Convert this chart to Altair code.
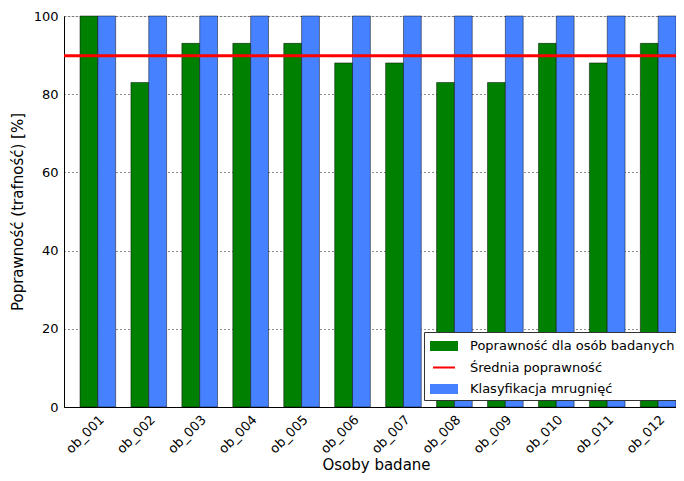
import altair as alt
import pandas as pd

subjects = ["ob_001", "ob_002", "ob_003", "ob_004", "ob_005", "ob_006",
            "ob_007", "ob_008", "ob_009", "ob_010", "ob_011", "ob_012"]
accuracy = [100, 83, 93, 93, 93, 88, 88, 83, 83, 93, 88, 93]
blink = [100, 100, 100, 100, 100, 100, 100, 100, 100, 100, 100, 100]
labels = ["Poprawność dla osób badanych", "Średnia poprawność", "Klasyfikacja mrugnięć"]
colors = ["#008000", "#ff0000", "#4682ff"]
paths = ["M-1.4,-0.5H1.4V0.5H-1.4Z", "M-1.1,-0.1H1.1V0.1H-1.1Z", "M-1.4,-0.5H1.4V0.5H-1.4Z"]

rows = []
for s, a, b in zip(subjects, accuracy, blink):
    rows.append({"subject": s, "series": labels[0], "value": a})
    rows.append({"subject": s, "series": labels[2], "value": b})
df = pd.DataFrame(rows)
legend_df = pd.DataFrame({"series": labels})

FONT = "DejaVu Sans"
ytitle = "Poprawność (trafność) [%]"

leg = alt.Legend(title=None, orient="none", legendX=360, legendY=316,
                 fillColor="white", strokeColor="#333", padding=4, rowPadding=4.5,
                 symbolOffset=6, labelOffset=16, labelFontSize=13, labelFont=FONT,
                 labelColor="black", symbolSize=400, symbolStrokeWidth=0,
                 labelLimit=400, cornerRadius=0, symbolOpacity=1)

color_scale = alt.Scale(domain=labels, range=colors)

bars = alt.Chart(df).mark_bar(stroke="black", strokeWidth=0.6, strokeOpacity=0.8).encode(
    x=alt.X("subject:N", sort=subjects,
            scale=alt.Scale(paddingInner=0.3, paddingOuter=0.157, align=1),
            axis=alt.Axis(title="Osoby badane", labelAngle=-45, labelAlign="right",
                          labelBaseline="top", labelPadding=6, ticks=False,
                          domainColor="black", labelFontSize=13, titleFontSize=15,
                          titleFontWeight="normal", titleX=312, titleY=62,
                          titleAlign="center", titleBaseline="alphabetic")),
    xOffset=alt.XOffset("series:N", sort=[labels[0], labels[2]],
                        scale=alt.Scale(domain=[labels[0], labels[2]], paddingInner=0, paddingOuter=0)),
    y=alt.Y("value:Q", scale=alt.Scale(domain=[0, 100], nice=False),
            axis=alt.Axis(title=ytitle, values=[0, 20, 40, 60, 80, 100], ticks=False,
                          grid=True, gridDash=[1, 3], gridColor="black", gridOpacity=0.9,
                          domainColor="black", labelFontSize=13, labelPadding=6,
                          titleFontSize=15, titleFontWeight="normal", titlePadding=8)),
    color=alt.Color("series:N", scale=color_scale, legend=leg),
)

rule = alt.Chart(df).transform_filter(
    alt.datum.series == labels[0]
).mark_rule(color="red", strokeWidth=3).encode(
    y=alt.Y("mean(value):Q", title=ytitle)
)

pts = alt.Chart(legend_df).transform_filter("false").mark_point(filled=True, opacity=1).encode(
    color=alt.Color("series:N", scale=color_scale, legend=leg),
    shape=alt.Shape("series:N", scale=alt.Scale(domain=labels, range=paths), legend=leg),
)

chart = alt.layer(bars, rule, pts).properties(
    width=612, height=391, autosize="none",
    padding={"left": 56, "top": 8, "right": 0, "bottom": 66},
).configure_view(stroke=None).configure(font=FONT).configure_axis(
    labelColor="black", titleColor="black", labelFont=FONT, titleFont=FONT
)

chart.save("out.html", embed_options={"renderer": "svg", "actions": False})
